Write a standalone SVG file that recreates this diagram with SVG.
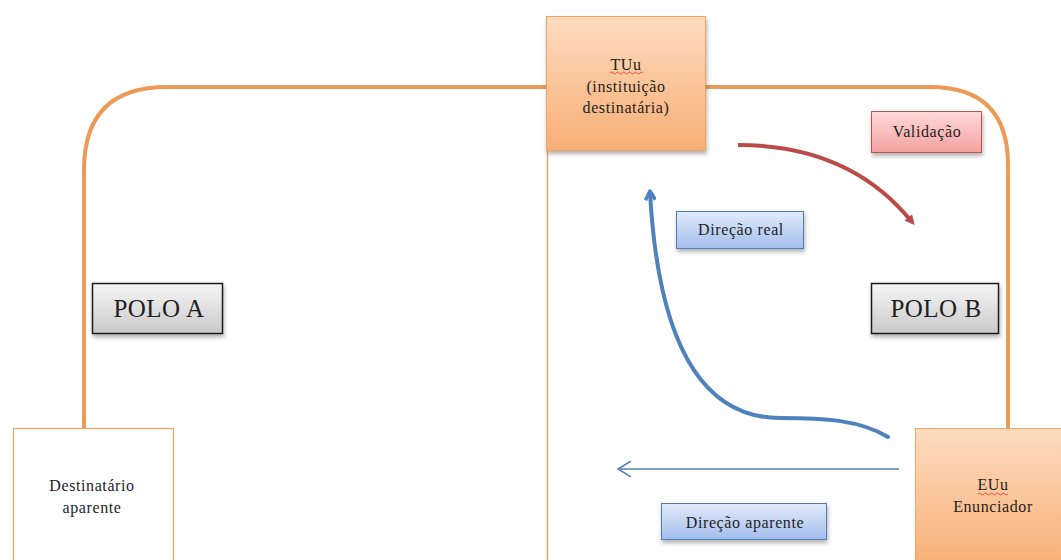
<svg xmlns="http://www.w3.org/2000/svg" width="1061" height="560" viewBox="0 0 1061 560">
<style>
text{font-family:"Liberation Serif","Times New Roman","DejaVu Serif",serif;fill:#1e1e1e;text-anchor:middle}
.s{font-size:16px;letter-spacing:0.6px}
.p{font-size:25px;letter-spacing:0.5px}
.loop{fill:none;stroke:#EC9A55;stroke-width:4}
</style>
<defs>
<linearGradient id="gO" x1="0" y1="0" x2="0" y2="1"><stop offset="0" stop-color="#FDDCC0"/><stop offset="1" stop-color="#F8AE74"/></linearGradient>
<linearGradient id="gR" x1="0" y1="0" x2="0" y2="1"><stop offset="0" stop-color="#FFDADA"/><stop offset="1" stop-color="#F4A0A0"/></linearGradient>
<linearGradient id="gB" x1="0" y1="0" x2="0" y2="1"><stop offset="0" stop-color="#E2EAFA"/><stop offset="1" stop-color="#A3BEEC"/></linearGradient>
<linearGradient id="gG" x1="0" y1="0" x2="0" y2="1"><stop offset="0" stop-color="#F6F6F6"/><stop offset="1" stop-color="#C9C9C9"/></linearGradient>
<filter id="sh" x="-20%" y="-20%" width="140%" height="150%"><feDropShadow dx="1" dy="3" stdDeviation="2" flood-color="#000" flood-opacity="0.3"/></filter>
<marker id="mR" markerWidth="10" markerHeight="10" refX="6" refY="5" orient="auto" markerUnits="userSpaceOnUse" viewBox="0 0 10 10"><path d="M0,0 L10,5 L0,10 Z" fill="#BA4B48"/></marker>
<marker id="mB" markerWidth="12" markerHeight="12" refX="9" refY="6" orient="auto" markerUnits="userSpaceOnUse" viewBox="0 0 12 12"><path d="M1,1 L10,6 L1,11" fill="none" stroke="#4F81BD" stroke-width="3.5" stroke-linejoin="round"/></marker>
<marker id="mT" markerWidth="16" markerHeight="16" refX="15" refY="8" orient="auto" markerUnits="userSpaceOnUse" viewBox="0 0 16 16"><path d="M2,0 L15,8 L2,16" fill="none" stroke="#4F81BD" stroke-width="1.5"/></marker>
</defs>
<rect width="1061" height="560" fill="#fff"/>
<g id="connectors">
<path class="loop" d="M84,428 L84,170 Q84,87 167,87 L547,87"/>
<path class="loop" d="M706,87 L930,87 Q1008,87 1008,165 L1008,428"/>
<line x1="547.5" y1="151" x2="547.5" y2="560" stroke="#E3A673" stroke-width="1.5"/>
<path d="M738,145 Q850,145 912,222" fill="none" stroke="#BA4B48" stroke-width="4" marker-end="url(#mR)"/>
<path d="M888,437 C860,420 825,418 780,418 C700,418 658,340 650,192" fill="none" stroke="#4F81BD" stroke-width="4" stroke-linecap="round" marker-end="url(#mB)"/>
<line x1="899" y1="469" x2="618" y2="469" stroke="#4F81BD" stroke-width="1.5" marker-end="url(#mT)"/>
</g>
<g id="tuu">
<rect x="546.5" y="16.5" width="159" height="134" fill="url(#gO)" stroke="#F2A461" stroke-width="1" filter="url(#sh)"/>
<text class="s" x="626" y="70">TUu</text>
<path d="M610,73 q1.5,-2 3,0 t3,0 t3,0 t3,0 t3,0 t3,0 t3,0 t3,0 t3,0 t3,0 t3,0" fill="none" stroke="#E0302A" stroke-width="0.8"/>
<text class="s" x="626" y="92">(instituição</text>
<text class="s" x="626" y="113">destinatária)</text>
</g>
<g id="validacao">
<rect x="871.5" y="111.5" width="110" height="41" fill="url(#gR)" stroke="#B85450" stroke-width="1" filter="url(#sh)"/>
<text class="s" x="927" y="137">Validação</text>
</g>
<g id="direcao-real">
<rect x="676.5" y="211.5" width="127" height="37" fill="url(#gB)" stroke="#4F7DBA" stroke-width="1" filter="url(#sh)"/>
<text class="s" x="741" y="235">Direção real</text>
</g>
<g id="polo-a">
<rect x="92.5" y="283.5" width="130" height="50" fill="url(#gG)" stroke="#1a1a1a" stroke-width="1.5" filter="url(#sh)"/>
<text class="p" x="159" y="317">POLO A</text>
</g>
<g id="polo-b">
<rect x="871.5" y="283.5" width="127" height="50" fill="url(#gG)" stroke="#1a1a1a" stroke-width="1.5" filter="url(#sh)"/>
<text class="p" x="936" y="317">POLO B</text>
</g>
<g id="destinatario">
<rect x="13.5" y="428.5" width="160" height="140" fill="#fff" stroke="#F2A461" stroke-width="1.2"/>
<text class="s" x="92" y="491">Destinatário</text>
<text class="s" x="92" y="513">aparente</text>
</g>
<g id="euu">
<rect x="915.5" y="428.5" width="160" height="140" fill="url(#gO)" stroke="#F2A461" stroke-width="1"/>
<text class="s" x="993" y="490">EUu</text>
<path d="M978,494 q1.5,-2 3,0 t3,0 t3,0 t3,0 t3,0 t3,0 t3,0 t3,0 t3,0 t3,0" fill="none" stroke="#E0302A" stroke-width="0.8"/>
<text class="s" x="993" y="512">Enunciador</text>
</g>
<g id="direcao-aparente">
<rect x="661.5" y="503.5" width="165" height="36" fill="url(#gB)" stroke="#4F7DBA" stroke-width="1" filter="url(#sh)"/>
<text class="s" x="745" y="528">Direção aparente</text>
</g>
</svg>
